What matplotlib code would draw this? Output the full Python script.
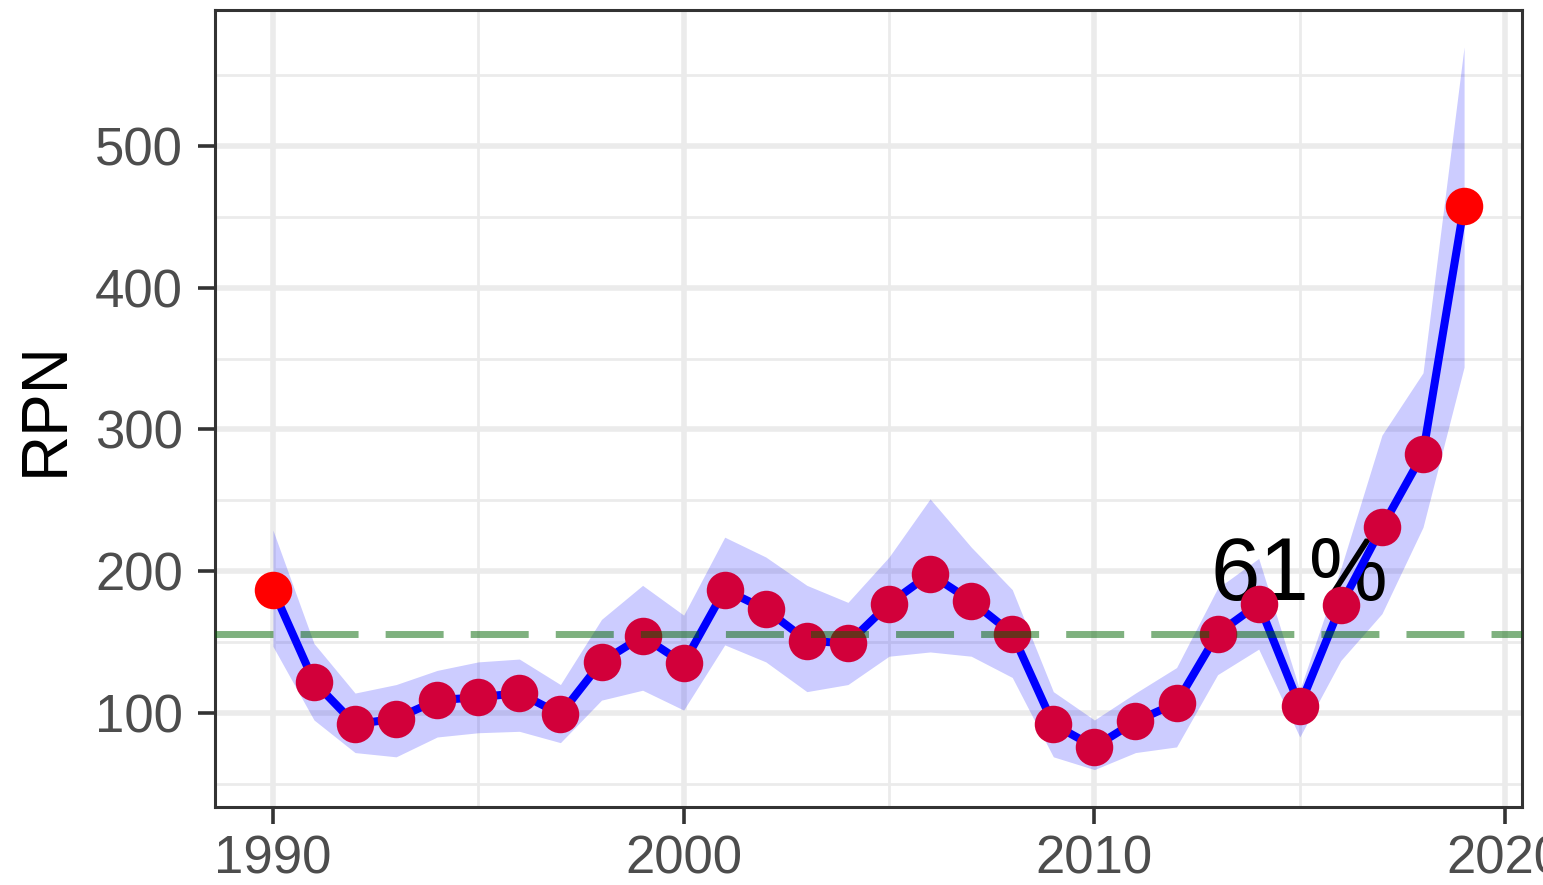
import matplotlib
matplotlib.use("Agg")
import matplotlib.pyplot as plt
from matplotlib.ticker import MultipleLocator

plt.rcParams['font.family'] = ['Liberation Sans', 'DejaVu Sans']

years = [1990, 1991, 1992, 1993, 1994, 1995, 1996, 1997, 1998, 1999,
         2000, 2001, 2002, 2003, 2004, 2005, 2006, 2007, 2008, 2009,
         2010, 2011, 2012, 2013, 2014, 2015, 2016, 2017, 2018, 2019]
rpn = [187, 122, 92, 96, 109, 111, 114, 99, 136, 154,
       135, 187, 173, 151, 149, 177, 198, 179, 156, 92,
       76, 94, 107, 156, 177, 105, 176, 231, 283, 458]
upper = [229, 149, 114, 120, 130, 136, 138, 120, 166, 190,
         169, 224, 210, 190, 178, 210, 251, 217, 187, 115,
         95, 114, 132, 188, 209, 116, 202, 296, 340, 570]
lower = [147, 95, 72, 69, 83, 86, 87, 79, 109, 116,
         102, 148, 136, 115, 120, 140, 143, 140, 125, 69,
         60, 72, 76, 127, 145, 83, 137, 170, 231, 344]
baseline = 156
label = "61%"
label_year = 2015
label_rpn = 180

fig = plt.figure(figsize=(15.43, 8.85), dpi=100)
ax = fig.add_axes([215 / 1543, 1 - 807 / 885, (1522 - 215) / 1543, (807 - 10) / 885])

ax.fill_between(years, lower, upper, color='blue', alpha=0.2, lw=0, zorder=2)
ax.text(label_year, label_rpn, label, fontsize=64, ha='center', va='baseline',
        color='black', zorder=2.5)
ax.plot(years, rpn, color='blue', lw=5.8, zorder=3)
ax.scatter(years[1:-1], rpn[1:-1], s=27 ** 2, color='#d2003a', lw=0, zorder=4)
ax.scatter([years[0], years[-1]], [rpn[0], rpn[-1]], s=27 ** 2,
           color='#ff0000', lw=0, zorder=4)
ax.axhline(baseline, color='darkgreen', alpha=0.5, lw=5, dashes=(8.35, 3.9), zorder=5)

ax.set_xlim(1988.59, 2020.41)
ax.set_ylim(33.6, 596)
ax.xaxis.set_major_locator(MultipleLocator(10))
ax.xaxis.set_minor_locator(MultipleLocator(5))
ax.yaxis.set_major_locator(MultipleLocator(100))
ax.yaxis.set_minor_locator(MultipleLocator(50))

ax.grid(which='major', color='#ebebeb', lw=4, zorder=0)
ax.grid(which='minor', color='#ebebeb', lw=2, zorder=0)
ax.set_axisbelow(True)

for s in ax.spines.values():
    s.set_color('#333333')
    s.set_linewidth(2.2)

ax.tick_params(which='major', length=12, width=2.6, color='#333333',
               labelsize=38, labelcolor='#4d4d4d', pad=11)
ax.tick_params(axis='x', which='major', pad=8)
ax.tick_params(which='minor', length=0)
ax.set_ylabel('RPN', fontsize=46, color='black', labelpad=14)

fig.savefig('out.png', dpi=100)
